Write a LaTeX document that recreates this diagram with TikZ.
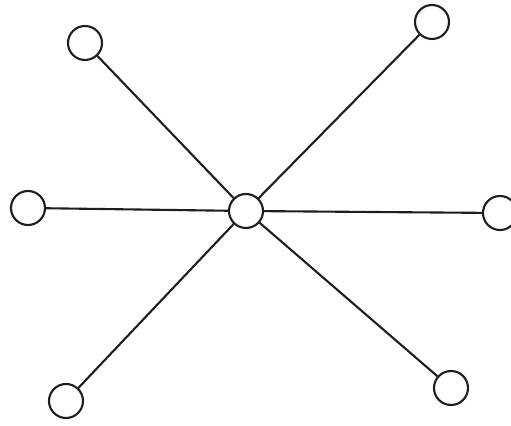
\documentclass[tikz,border=0pt]{standalone}
\usepackage{xcolor}
\definecolor{inkgray}{RGB}{30, 30, 30}
\usepackage{tikz}

\begin{document}
\begin{tikzpicture}[
  vertex/.style={circle, draw=inkgray, fill=white, line width=1.2pt, minimum size=0.68cm, inner sep=0pt},
  edge/.style={draw=inkgray, line width=1.2pt}
]
  \useasboundingbox (0,0) rectangle (10.22,8.52);

  % Hub
  \node[vertex] (hub) at (4.92,4.30) {};

  % Leaves
  \node[vertex] (tl) at (1.70,7.66)  {};
  \node[vertex] (tr) at (8.64,8.08)  {};
  \node[vertex] (ml) at (0.56,4.36)  {};
  \node[vertex] (mr) at (10.00,4.26) {};
  \node[vertex] (bl) at (1.32,0.50)  {};
  \node[vertex] (br) at (9.02,0.76)  {};

  % Spokes
  \foreach \n in {tl,tr,ml,mr,bl,br} {
    \draw[edge] (hub) -- (\n);
  }
\end{tikzpicture}
\end{document}
